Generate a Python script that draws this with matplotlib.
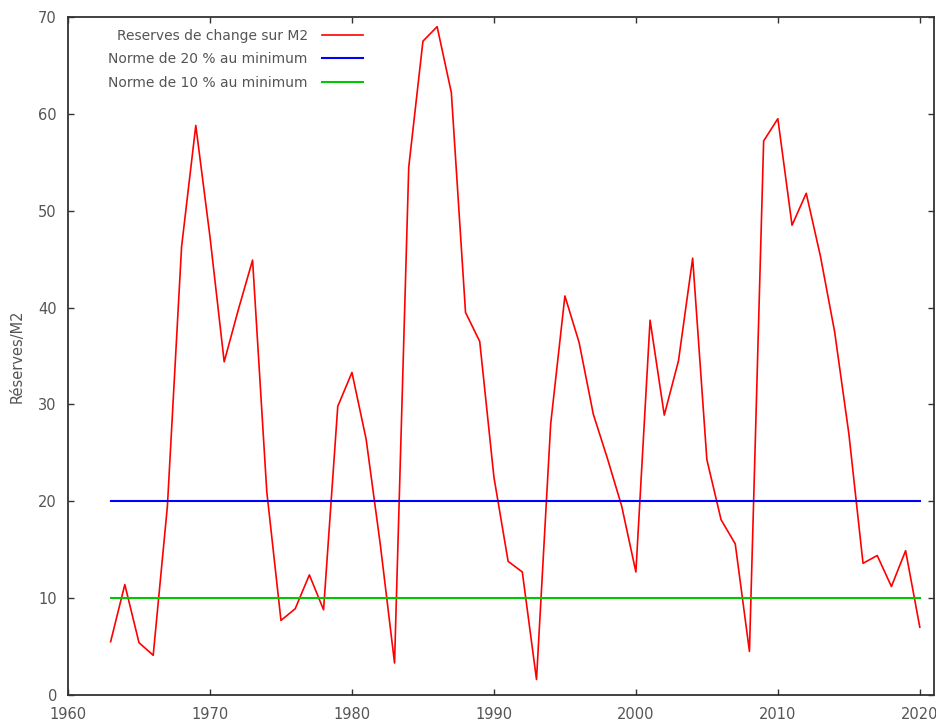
import matplotlib
matplotlib.use("Agg")
import matplotlib.pyplot as plt

# Reserves de change / M2, valeurs annuelles
years = list(range(1963, 2021))
reserves_m2 = [
    5.5, 11.4, 5.4, 4.1, 19.5, 46.3, 58.8, 47.3, 34.4, 39.8,   # 1963-1972
    44.9, 21.0, 7.7, 8.9, 12.4, 8.8, 29.8, 33.3, 26.4, 15.5,   # 1973-1982
    3.3, 54.5, 67.5, 69.0, 62.2, 39.5, 36.5, 22.5, 13.8, 12.7,  # 1983-1992
    1.6, 28.0, 41.2, 36.4, 29.0, 24.4, 19.5, 12.7, 38.7, 28.9,  # 1993-2002
    34.5, 45.1, 24.3, 18.1, 15.6, 4.5, 57.2, 59.5, 48.5, 51.8,  # 2003-2012
    45.3, 37.5, 27.0, 13.6, 14.4, 11.2, 14.9, 7.0,              # 2013-2020
]
norme_20 = [20] * len(years)
norme_10 = [10] * len(years)

xticks = [1960, 1970, 1980, 1990, 2000, 2010, 2020]
yticks = [0, 10, 20, 30, 40, 50, 60, 70]

plt.rcParams['font.family'] = ['DejaVu Sans']
txt_color = '#555555'

fig = plt.figure(figsize=(9.37, 7.26), dpi=100)
ax = fig.add_axes([0.0726, 0.0427, 0.9242, 0.9339])

ax.plot(years, reserves_m2, color='#ff0000', lw=1.2, label='Reserves de change sur M2')
ax.plot(years, norme_20, color='#0000ff', lw=1.5, label='Norme de 20 % au minimum')
ax.plot(years, norme_10, color='#00c800', lw=1.5, label='Norme de 10 % au minimum')

ax.set_xlim(1960, 2021)
ax.set_ylim(0, 70)
ax.set_xticks(xticks)
ax.set_yticks(yticks)
ax.tick_params(direction='in', length=4.5, width=1, top=True, right=True,
               labelsize=10.5, labelcolor=txt_color, color='#333333')
ax.tick_params(axis='y', pad=8)
ax.tick_params(axis='x', pad=9)
for sp in ax.spines.values():
    sp.set_color('#333333')
    sp.set_linewidth(1.3)

ax.set_ylabel('Réserves/M2', fontsize=10.5, color=txt_color, labelpad=10)

leg = ax.legend(loc='upper left', bbox_to_anchor=(0.032, 1.001), frameon=False,
                markerfirst=False, fontsize=10, handlelength=3.0,
                handletextpad=1.0, labelspacing=0.68)
for t in leg.get_texts():
    t.set_color(txt_color)

fig.savefig('out.png', dpi=100)
